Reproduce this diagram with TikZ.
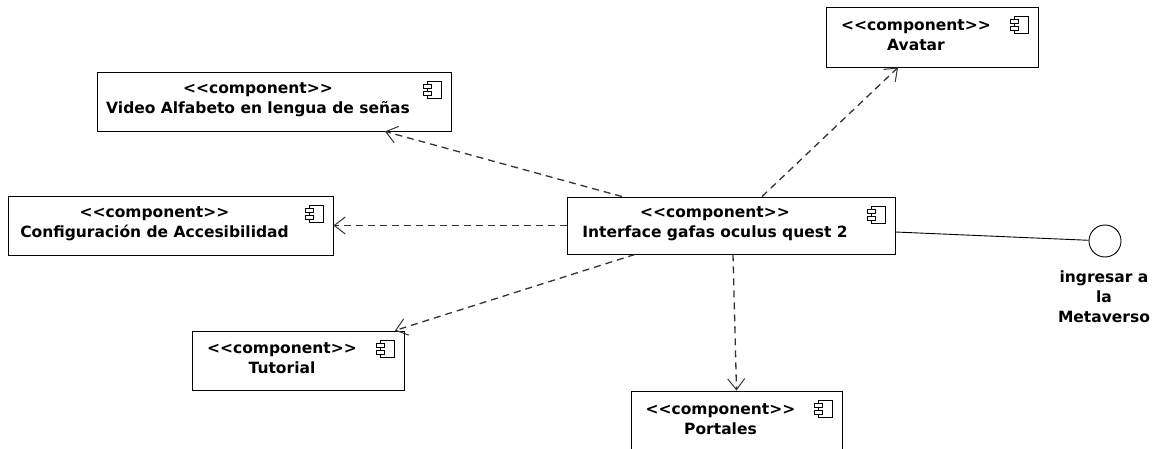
\documentclass[tikz,border=0pt]{standalone}
\usepackage{fontspec}
\setmainfont{DejaVu Sans}
\usetikzlibrary{arrows.meta,positioning}

\tikzset{
	compicon/.style={path picture={
		\coordinate (ic) at ([xshift=-28pt,yshift=-9pt]path picture bounding box.north east);
		\draw[line width=0.8pt] ([xshift=4pt]ic) rectangle ++(14pt,-17pt);
		\draw[line width=0.8pt,fill=white] ([yshift=-3pt]ic) rectangle ++(8pt,-4pt);
		\draw[line width=0.8pt,fill=white] ([yshift=-10pt]ic) rectangle ++(8pt,-4pt);
	}},
	comp/.style={draw, line width=0.9pt, minimum height=59pt, inner sep=0pt, compicon,
		label={[xshift=-16pt, yshift=2pt, align=center]center:{\textless\kern0pt\textless\kern0pt component\kern0pt\textgreater\kern0pt\textgreater\\#1}}},
	dep/.style={color=black!80, line width=1.3pt, dash pattern=on 7pt off 5pt,
		-{Straight Barb[length=11pt,width=17pt,line width=1pt]}}
}

\begin{document}
\begin{tikzpicture}[x=1pt, y=-1pt, font=\fontsize{15.5pt}{20pt}\selectfont\bfseries]
\useasboundingbox (0,0) rectangle (1157,449);
\clip (0,0) rectangle (1157,449);
\node (iface) [comp={Interface gafas oculus quest 2}, minimum width=328pt, minimum height=57pt] at (731,225.5) {};
\node (avatar) [comp={Avatar}, minimum width=212pt, minimum height=60pt] at (932,37) {};
\node (video) [comp={Video Alfabeto en lengua de señas}, minimum width=354pt] at (274,101.5) {};
\node (config) [comp={Configuración de Accesibilidad}, minimum width=325pt] at (170.5,225.5) {};
\node (tutorial) [comp={Tutorial}, minimum width=212pt] at (298,360.5) {};
\node (portales) [comp={Portales}, minimum width=211pt, minimum height=60pt] at (736.5,421) {};
\node (port) [circle, draw, line width=0.9pt, minimum size=32pt, inner sep=0pt] at (1105,241) {};
\node (portlbl) [align=center, inner sep=0pt] at (1104,296.5) {ingresar a\\la\\Metaverso};
\path[dep]
([xshift=-109pt]iface.north) edge ([xshift=111pt]video.south)
([xshift=31pt]iface.north) edge ([xshift=-34pt]avatar.south)
(iface.west) edge (config.east)
([xshift=-96pt]iface.south) edge ([xshift=97pt]tutorial.north)
([xshift=2pt]iface.south) edge (portales.north)
;
\draw[line width=0.9pt] ([yshift=-6.5pt]iface.east) -- (port);
\end{tikzpicture}
\end{document}
